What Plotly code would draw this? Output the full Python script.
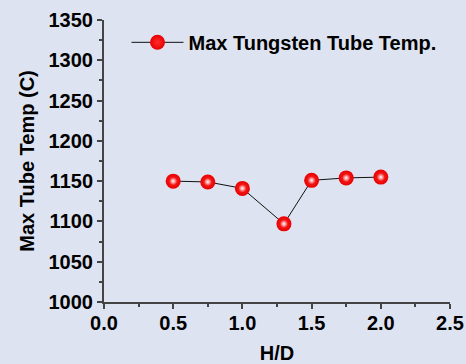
import plotly.graph_objects as go

hd = [0.5, 0.75, 1.0, 1.3, 1.5, 1.75, 2.0]
temp = [1150, 1149, 1141, 1097, 1151, 1154, 1155]
series_name = "Max Tungsten Tube Temp."
x_title = "H/D"
y_title = "Max Tube Temp (C)"

bg = "#DEE3F1"
font_fam = "Liberation Sans, Arial, sans-serif"

fig = go.Figure()
fig.add_trace(go.Scatter(
    x=hd, y=temp, mode="lines+markers", name=series_name,
    line=dict(color="#111111", width=1),
    marker=dict(size=15, color="#e80000",
                gradient=dict(type="radial", color="#ff2a2a"),
                line=dict(width=0)),
))
# specular highlight on each sphere
fig.add_trace(go.Scatter(
    x=hd, y=temp, mode="markers", showlegend=False, hoverinfo="skip",
    marker=dict(size=8, color="rgba(255,255,255,0)",
                gradient=dict(type="radial", color="#ffffff"),
                line=dict(width=0)),
))

axis_common = dict(
    showline=True, linecolor="#444444", linewidth=2,
    ticks="outside", tickcolor="#444444", ticklen=5, tickwidth=1.5,
    showgrid=False, zeroline=False, mirror=False, automargin=False,
    tickfont=dict(family=font_fam, size=20, color="black", weight="bold"),
    title_font=dict(family=font_fam, size=20, color="black", weight="bold"),
)

fig.update_xaxes(range=[0, 2.5], dtick=0.5, tickformat=".1f", ticklabelstandoff=-3,
                 minor=dict(ticks="outside", ticklen=3, dtick=0.25, tickcolor="#444444"),
                 title_text=x_title, title_standoff=13, **axis_common)
fig.update_yaxes(range=[1000, 1350], dtick=50,
                 minor=dict(ticks="outside", ticklen=3, dtick=25, tickcolor="#444444"),
                 title_text=y_title, title_standoff=9, **axis_common)

fig.update_layout(
    width=466, height=364,
    margin=dict(l=104, r=16, t=20, b=62),
    paper_bgcolor=bg, plot_bgcolor=bg,
    showlegend=True,
    legend=dict(x=0.065, y=0.99, xanchor="left", yanchor="top",
                bgcolor="rgba(0,0,0,0)", itemwidth=52,
                font=dict(family=font_fam, size=20, color="black", weight="bold")),
)

fig.write_html("out.html", config={"displayModeBar": False})
with open("out.html") as f:
    html = f.read()
html = html.replace("<head>", "<head><style>html,body{margin:0;padding:0;background:%s;}</style>" % bg, 1)
with open("out.html", "w") as f:
    f.write(html)
